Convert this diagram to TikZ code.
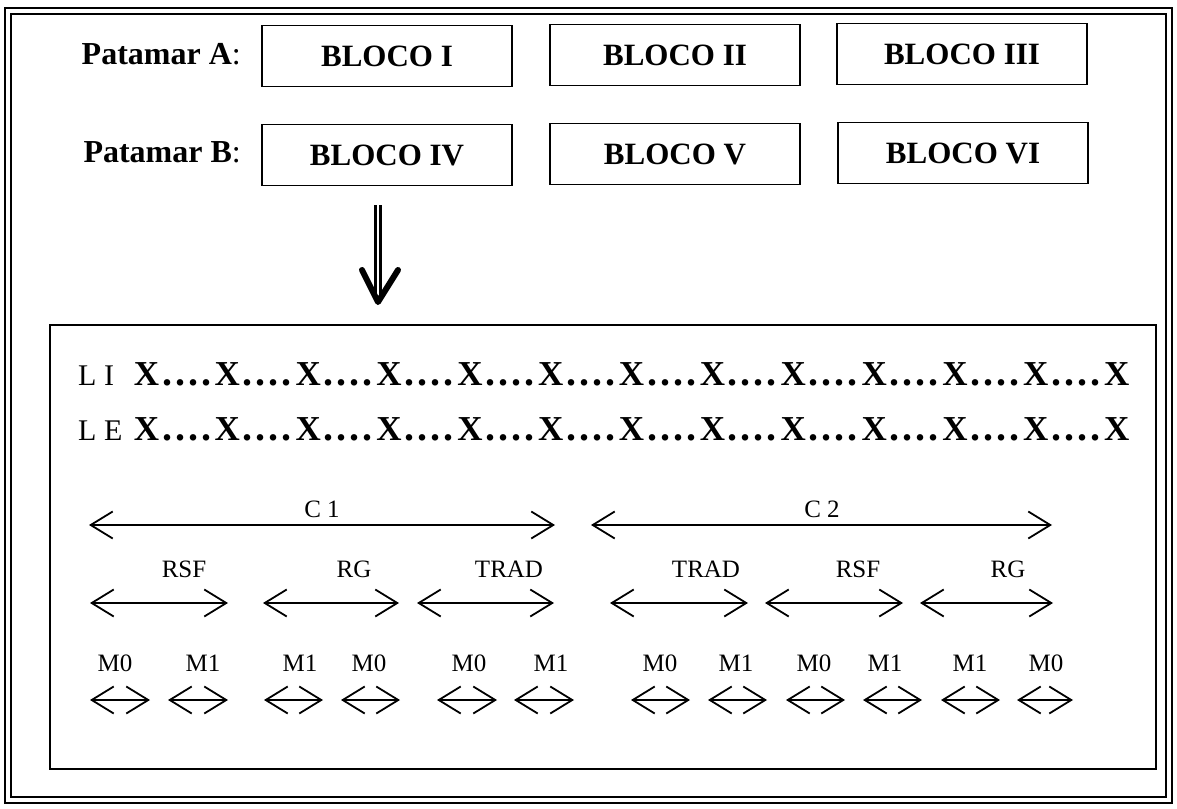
\documentclass[tikz,border=0pt]{standalone}
\usepackage{fontspec}
\setmainfont{Liberation Serif}
\usetikzlibrary{arrows.meta}
\begin{document}
\begin{tikzpicture}[x=1pt,y=-1pt,>={Straight Barb[length=22pt,width=27pt]},
    blocobox/.style={draw,line width=1.6pt,minimum width=250pt,minimum height=61pt,inner sep=0pt,font=\fontsize{31}{31}\selectfont\bfseries},
    patamar/.style={anchor=base east,inner sep=0pt,font=\fontsize{32}{32}\selectfont\bfseries},
    xmark/.style={anchor=base,inner sep=0pt,font=\fontsize{35}{35}\selectfont\bfseries},
    ponto/.style={anchor=base,inner sep=0pt,font=\fontsize{40}{40}\selectfont\bfseries},
    linha/.style={anchor=base west,inner sep=0pt,font=\fontsize{30}{30}\selectfont},
    lbl/.style={anchor=base,inner sep=0pt,font=\fontsize{25}{25}\selectfont},
    span/.style={<->,line width=1.8pt}]
        \useasboundingbox(0,0)rectangle(1177,808);
        % moldura dupla
        \draw[line width=1.8pt](5,8)rectangle(1172,803);
        \draw[line width=1.4pt](11,14)rectangle(1166,797);
        % patamares e blocos
        \node[patamar](pa)at(241,65){Patamar A\textmd{:}};
        \node[patamar](pb)at(241,162){Patamar B\textmd{:}};
        \node[blocobox](b1)at(387,56){BLOCO I};
        \node[blocobox](b2)at(675,55){BLOCO II};
        \node[blocobox](b3)at(962,54){BLOCO III};
        \node[blocobox](b4)at(387,155){BLOCO IV};
        \node[blocobox](b5)at(675,154){BLOCO V};
        \node[blocobox](b6)at(963,153){BLOCO VI};
        % seta dupla
        \coordinate(seta)at(378,205);
        \coordinate(setb)at(378,297);
        \coordinate(tip)at(378,302);
        \draw[line width=2.2pt,double distance=2.8pt](seta)--(setb);
        \draw[line width=6pt,line cap=round,line join=round](362,270)--(tip)--(398,270);
        % parcela
        \draw[line width=1.6pt](50,325)rectangle(1156,769);
        \node[linha](li)at(78,385){L I};
        \node[linha](le)at(78,440){L E};
        \foreach \i in {0,...,12}{
            \node[xmark](li\i)at(146.5+80.85*\i,385){X};
            \node[xmark](le\i)at(146.5+80.85*\i,440){X};
        }
        \foreach \i in {0,...,11}\foreach \k in {0,...,3}{
            \node[ponto](lid\i\k)at(167+80.85*\i+13*\k,385){.};
            \node[ponto](led\i\k)at(167+80.85*\i+13*\k,440){.};
        }
        % ciclos
        \foreach \a/\b/\n in {89/555/c1,591/1052/c2}{
            \coordinate(l\n)at(\a,525);
            \coordinate(r\n)at(\b,525);
            \draw[span](l\n)--(r\n);
        }
        \node[lbl](tc1)at(322,517){C 1};
        \node[lbl](tc2)at(822,517){C 2};
        % tratamentos
        \foreach \a/\b/\n in {90/228/t1,263/399/t2,417/554/t3,610/748/t4,765/903/t5,920/1053/t6}{
            \coordinate(l\n)at(\a,603);
            \coordinate(r\n)at(\b,603);
            \draw[span](l\n)--(r\n);
        }
        \foreach \x/\t/\n in {184/RSF/t1,354/RG/t2,509/TRAD/t3,706/TRAD/t4,858/RSF/t5,1008/RG/t6}
            \node[lbl](n\n)at(\x,577){\t};
        % manejos
        \foreach \a/\b/\n in {90/150/m1,168/228/m2,264/323/m3,341/400/m4,437/497/m5,514/574/m6,631/690/m7,708/767/m8,786/845/m9,863/922/m10,941/1000/m11,1017/1073/m12}{
            \coordinate(l\n)at(\a,700);
            \coordinate(r\n)at(\b,700);
            \draw[span](l\n)--(r\n);
        }
        \foreach \x/\t/\n in {115/M0/m1,203/M1/m2,300/M1/m3,369/M0/m4,469/M0/m5,551/M1/m6,660/M0/m7,736/M1/m8,814/M0/m9,885/M1/m10,970/M1/m11,1046/M0/m12}
            \node[lbl](n\n)at(\x,671){\t};
\end{tikzpicture}
\end{document}
